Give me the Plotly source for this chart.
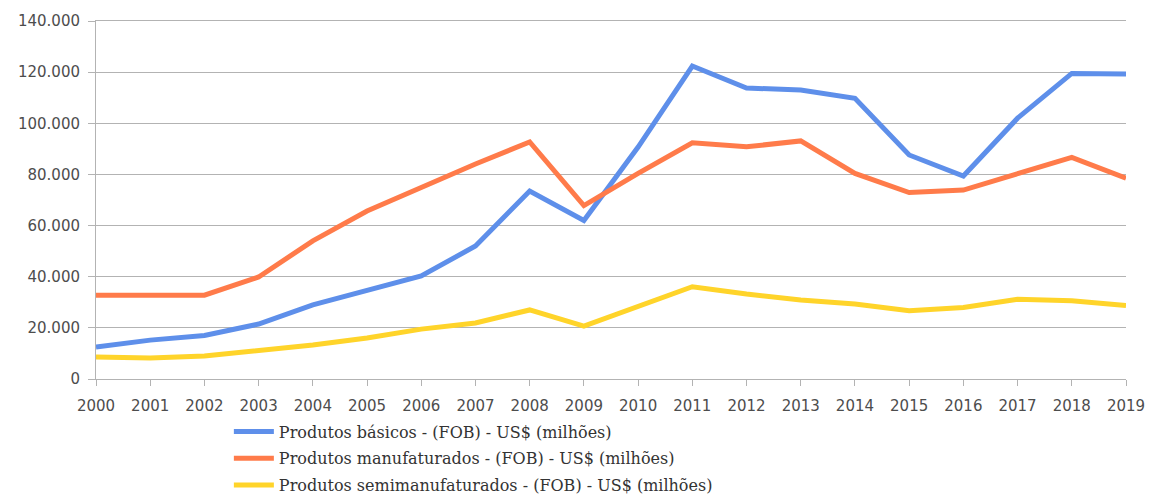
import plotly.graph_objects as go

years = [str(y) for y in range(2000, 2020)]
basicos = [12500, 15200, 17000, 21500, 29000, 34800, 40300, 52000, 73500, 62000,
           90700, 122400, 113800, 113000, 109800, 87600, 79400, 102000, 119500, 119300]
manufaturados = [32800, 32800, 32800, 39900, 54000, 65700, 75100, 84100, 92700, 67800,
                 80400, 92400, 90800, 93100, 80400, 72900, 73900, 80400, 86700, 78500]
semimanufaturados = [8600, 8200, 9000, 11000, 13300, 16000, 19500, 21900, 27000, 20700,
                     28300, 36100, 33200, 30900, 29300, 26700, 28000, 31200, 30600, 28700]
names = ["Produtos básicos - (FOB) - US$ (milhões)",
         "Produtos manufaturados - (FOB) - US$ (milhões)",
         "Produtos semimanufaturados - (FOB) - US$ (milhões)"]
colors = ["#5E8FEA", "#FF7B4A", "#FFD42A"]
yticks = [0, 20000, 40000, 60000, 80000, 100000, 120000, 140000]
ytext = ["0", "20.000", "40.000", "60.000", "80.000", "100.000", "120.000", "140.000"]

fig = go.Figure()
for i, (vals, name, col) in enumerate(zip([basicos, manufaturados, semimanufaturados], names, colors)):
    fig.add_trace(go.Scatter(x=years, y=vals, name=name, mode="lines", legendgroup=f"g{i}",
                             line=dict(color=col, width=5)))

tickfont = dict(family="DejaVu Sans", size=15, color="#4d4d4d")
fig.update_layout(
    width=1153, height=497,
    margin=dict(l=96, r=27, t=21, b=118),
    paper_bgcolor="white", plot_bgcolor="white",
    showlegend=True,
    legend=dict(orientation="v", xref="paper", yref="container",
                x=0.129, y=0.166, xanchor="left", yanchor="top",
                font=dict(family="DejaVu Serif", size=16, color="#333333"),
                tracegroupgap=3, itemwidth=40, bgcolor="rgba(0,0,0,0)"),
    xaxis=dict(type="category", range=[0, 19], showgrid=False, showline=True,
               linecolor="#b3b3b3", linewidth=1, mirror=True, automargin=False,
               ticks="outside", ticklen=6, tickcolor="#b3b3b3",
               ticklabelstandoff=7,
               tickfont=tickfont, zeroline=False),
    yaxis=dict(range=[0, 140000], tickvals=yticks, ticktext=ytext, automargin=False,
               showgrid=True, gridcolor="#b3b3b3", gridwidth=1,
               showline=True, linecolor="#b3b3b3", linewidth=1,
               ticks="outside", ticklen=7, tickcolor="#b3b3b3",
               ticklabelstandoff=5,
               tickfont=tickfont, zeroline=False),
)
fig.write_html("out.html")
